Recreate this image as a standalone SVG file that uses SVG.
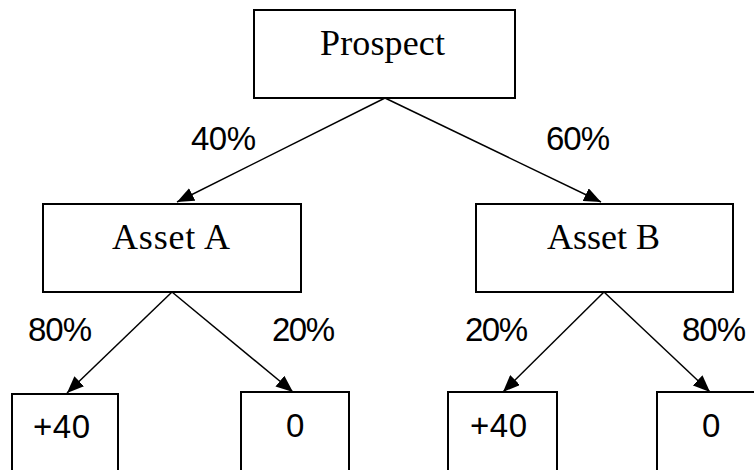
<svg xmlns="http://www.w3.org/2000/svg" width="754" height="470" viewBox="0 0 754 470">
<style>
.box{fill:#fff;stroke:#000;stroke-width:2}
.lbl{font-family:"Liberation Serif","Times New Roman",serif;font-size:36px;fill:#000}
.num{font-family:"Liberation Sans",Arial,sans-serif;font-size:33px;fill:#000}
.edge{stroke:#000;stroke-width:1.5;fill:none;marker-end:url(#arr)}
</style>
<defs>
<marker id="arr" markerUnits="userSpaceOnUse" markerWidth="18" markerHeight="14" refX="17" refY="7" orient="auto">
<path d="M0,0 L17,7 L0,14 z" fill="#000"/>
</marker>
</defs>
<rect width="754" height="470" fill="#fff"/>
<g id="connectors">
<line class="edge" x1="385" y1="98" x2="177" y2="202"/>
<line class="edge" x1="385" y1="98" x2="601" y2="202"/>
<line class="edge" x1="172" y1="292" x2="67" y2="393"/>
<line class="edge" x1="172" y1="292" x2="293" y2="392"/>
<line class="edge" x1="604" y1="292" x2="503" y2="392"/>
<line class="edge" x1="604" y1="292" x2="710" y2="392"/>
<text class="num" x="191" y="150" textLength="65">40%</text>
<text class="num" x="546" y="150" textLength="64">60%</text>
<text class="num" x="28" y="341" textLength="64">80%</text>
<text class="num" x="272" y="341" textLength="63">20%</text>
<text class="num" x="465" y="341" textLength="63">20%</text>
<text class="num" x="682" y="341" textLength="64">80%</text>
</g>
<g id="prospect">
<rect class="box" x="254" y="10" width="261" height="88"/>
<text class="lbl" x="320" y="55" textLength="125">Prospect</text>
</g>
<g id="assetA">
<rect class="box" x="43" y="204" width="258" height="88"/>
<text class="lbl" x="112" y="249" textLength="118">Asset A</text>
</g>
<g id="assetB">
<rect class="box" x="476" y="204" width="257" height="88"/>
<text class="lbl" x="547" y="249" textLength="113">Asset B</text>
</g>
<g id="leafA1">
<rect class="box" x="12" y="394" width="106" height="90"/>
<text class="num" x="33" y="438" textLength="57">+40</text>
</g>
<g id="leafA2">
<rect class="box" x="241" y="392" width="108" height="90"/>
<text class="num" x="286" y="437">0</text>
</g>
<g id="leafB1">
<rect class="box" x="448" y="392" width="109" height="90"/>
<text class="num" x="470" y="437" textLength="57">+40</text>
</g>
<g id="leafB2">
<rect class="box" x="657" y="392" width="110" height="90"/>
<text class="num" x="702" y="437">0</text>
</g>
</svg>
